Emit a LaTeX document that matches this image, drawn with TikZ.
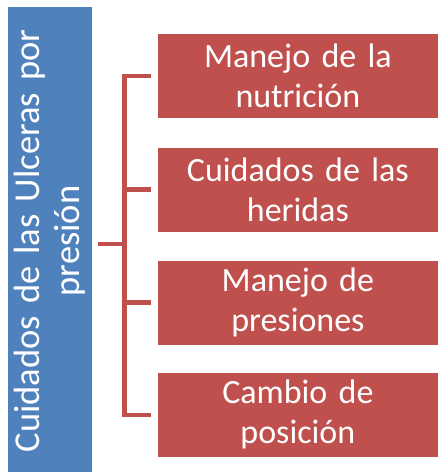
\documentclass[tikz,border=0pt]{standalone}
\usepackage{fontspec}
\setmainfont{Carlito}
\definecolor{bluebox}{HTML}{4F81BD}
\definecolor{redbox}{HTML}{C0504D}
\begin{document}
\begin{tikzpicture}[x=1pt,y=-1pt,
  itembox/.style={fill=redbox,draw=white,line width=0.8pt,minimum width=281pt,minimum height=85pt,anchor=north west,inner sep=0pt,text=white,font=\fontsize{34}{40}\selectfont,align=center,text width=278pt},
  mainbox/.style={fill=bluebox,draw=white,line width=0.8pt,minimum width=469pt,minimum height=85pt,inner sep=0pt,text=white,font=\fontsize{36.5}{40}\selectfont,align=center,text width=465pt,rotate=90},
  link/.style={draw=redbox,line width=4.5pt}]
\useasboundingbox (0,0) rectangle (440,472);
\node[mainbox] (m) at (50,241) {Cuidados de las Ulceras por\\presión};
\node[itembox] (a) at (157,33) {Manejo de la\\nutrición};
\node[itembox] (b) at (157,146.5) {Cuidados de las\\heridas};
\node[itembox] (c) at (157,259.5) {Manejo de\\presiones};
\node[itembox] (d) at (157,372) {Cambio de\\posición};
\coordinate (j) at (124.5,244);
\coordinate (s) at (98,244);
\draw[link] (s) -- (j);
\draw[link] ([xshift=-6pt]a.west) -- (j |- a.west) -- (j |- d.west) -- ([xshift=-6pt]d.west);
\draw[link] ([xshift=-6pt]b.west) -- (j |- b.west);
\draw[link] ([xshift=-6pt]c.west) -- (j |- c.west);
\end{tikzpicture}
\end{document}
